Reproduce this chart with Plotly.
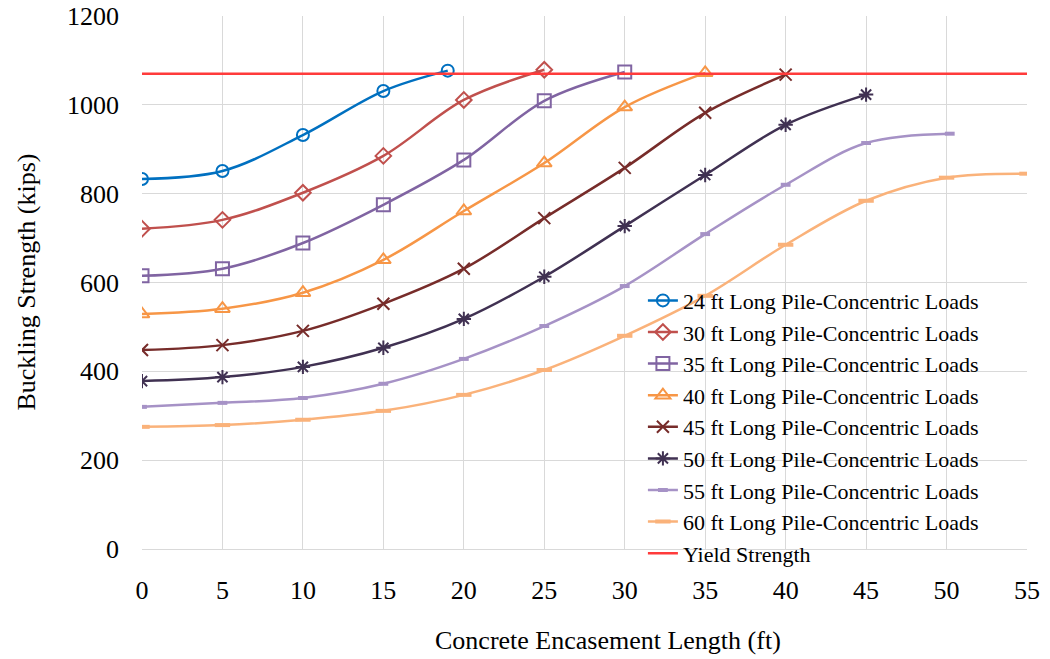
import plotly.graph_objects as go

# Concrete encasement length (ft) at each analysis step
enc_24 = [0, 5, 10, 15, 19]
enc_30 = [0, 5, 10, 15, 20, 25]
enc_35 = [0, 5, 10, 15, 20, 25, 30]
enc_40 = [0, 5, 10, 15, 20, 25, 30, 35]
enc_45 = [0, 5, 10, 15, 20, 25, 30, 35, 40]
enc_50 = [0, 5, 10, 15, 20, 25, 30, 35, 40, 45]
enc_55 = [0, 5, 10, 15, 20, 25, 30, 35, 40, 45, 50.2]
enc_60 = [0, 5, 10, 15, 20, 25, 30, 35, 40, 45, 50, 55]

# Buckling strength (kips) for each pile length
pile_24 = [833, 851, 932, 1031, 1077]
pile_30 = [721, 741, 802, 885, 1011, 1079]
pile_35 = [615, 631, 689, 775, 876, 1009, 1074]
pile_40 = [529, 541, 577, 651, 761, 869, 995, 1072]
pile_45 = [448, 459, 491, 552, 631, 745, 858, 982, 1068]
pile_50 = [378, 387, 410, 453, 518, 613, 727, 842, 955, 1023]
pile_55 = [320, 329, 340, 372, 428, 502, 592, 709, 820, 914, 935]
pile_60 = [275, 279, 291, 311, 347, 403, 480, 570, 685, 784, 836, 845]

yield_x = [0, 55]
yield_y = [1070, 1070]

x_ticks = list(range(0, 56, 5))
y_ticks = list(range(0, 1201, 200))

FONT = "Liberation Serif, Times New Roman, serif"

series = [
    ("24 ft Long Pile-Concentric Loads", enc_24, pile_24, "#0070C0", "circle-open", 12),
    ("30 ft Long Pile-Concentric Loads", enc_30, pile_30, "#C0504D", "diamond-open", 12),
    ("35 ft Long Pile-Concentric Loads", enc_35, pile_35, "#8064A2", "square-open", 13),
    ("40 ft Long Pile-Concentric Loads", enc_40, pile_40, "#F79646", "triangle-up-open", 13),
    ("45 ft Long Pile-Concentric Loads", enc_45, pile_45, "#772C2A", "x-thin-open", 12),
    ("50 ft Long Pile-Concentric Loads", enc_50, pile_50, "#403152", "asterisk-open", 12),
    ("55 ft Long Pile-Concentric Loads", enc_55, pile_55, "#A692C6", "line-ew-open", 7),
    ("60 ft Long Pile-Concentric Loads", enc_60, pile_60, "#FAB27A", "line-ew-open", 11),
]

fig = go.Figure()
for name, xs, ys, color, symbol, size in series:
    mline = 4 if symbol.startswith("line") else 2
    fig.add_trace(go.Scatter(
        x=xs, y=ys, name=name, mode="lines+markers",
        line=dict(color=color, width=2.5, shape="spline", smoothing=1.0),
        marker=dict(symbol=symbol, size=size, color=color,
                    line=dict(color=color, width=mline)),
    ))

fig.add_trace(go.Scatter(
    x=yield_x, y=yield_y, name="Yield Strength", mode="lines",
    line=dict(color="#FF3B3B", width=2.5),
))

fig.update_layout(
    width=1050, height=659,
    margin=dict(l=142, r=23, t=16, b=110),
    paper_bgcolor="white", plot_bgcolor="white",
    font=dict(family=FONT, size=26, color="black"),
    legend=dict(
        x=0.566, y=-0.048, xanchor="left", yanchor="bottom",
        bgcolor="rgba(0,0,0,0)", borderwidth=0,
        font=dict(family=FONT, size=22, color="black"),
        tracegroupgap=0,
    ),
    xaxis=dict(
        range=[0, 55], tickvals=x_ticks, showgrid=True, gridcolor="#D9D9D9",
        gridwidth=1, zeroline=False, showline=True, linecolor="#D9D9D9",
        ticks="", ticklabelstandoff=18, automargin=False,
        tickfont=dict(family=FONT, size=26),
    ),
    yaxis=dict(
        range=[0, 1200], tickvals=y_ticks, showgrid=True, gridcolor="#D9D9D9",
        gridwidth=1, zeroline=False, showline=False,
        ticks="", ticklabelstandoff=22, automargin=False,
        tickfont=dict(family=FONT, size=26),
    ),
    annotations=[
        dict(text="Concrete Encasement Length (ft)", xref="paper", yref="paper",
             x=0.527, y=-0.171, xanchor="center", yanchor="middle",
             showarrow=False, font=dict(family=FONT, size=26)),
        dict(text="Buckling Strength (kips)", xref="paper", yref="paper",
             x=-0.131, y=0.5, xanchor="center", yanchor="middle", textangle=-90,
             showarrow=False, font=dict(family=FONT, size=26)),
    ],
)

fig.write_html("out.html")
